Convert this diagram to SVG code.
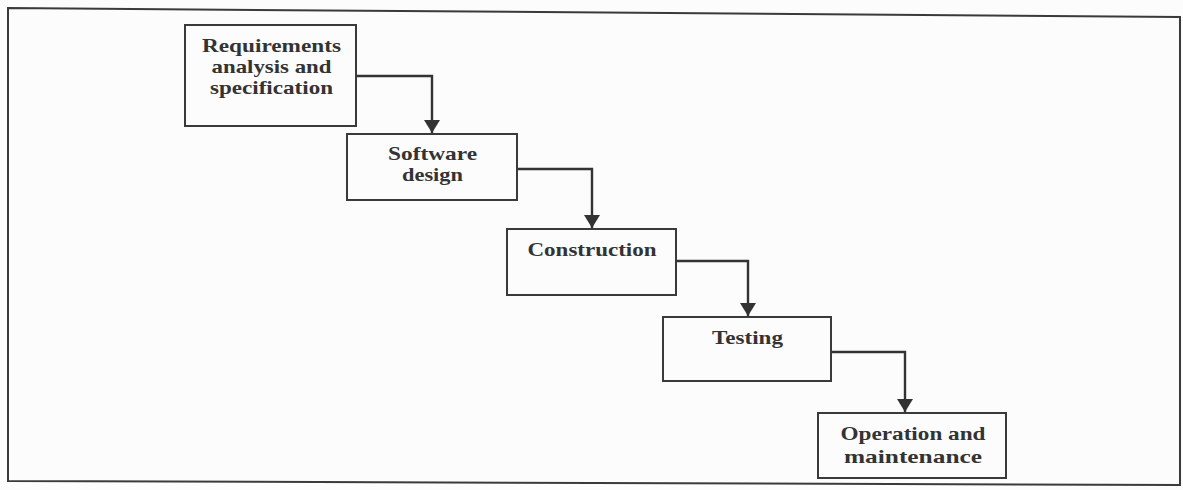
<svg xmlns="http://www.w3.org/2000/svg" width="1183" height="490" viewBox="0 0 1183 490">
  <style>
    .box { fill: none; stroke: #3a3a3a; stroke-width: 2; }
    .lbl { font-family: "Liberation Serif", "Times New Roman", serif; font-weight: bold; font-size: 19px; fill: #333; text-anchor: middle; }
    .conn { fill: none; stroke: #333; stroke-width: 2.4; }
  </style>
  <defs>
    <marker id="arrow" viewBox="0 0 13 16" refX="13" refY="8" markerWidth="13" markerHeight="16" markerUnits="userSpaceOnUse" orient="auto">
      <path d="M0,0 L13,8 L0,16 Z" fill="#333"/>
    </marker>
  </defs>
  <rect x="0" y="0" width="1183" height="490" fill="#fcfcfc"/>
  <polygon id="frame" points="8,8 1180,17 1180,485 8,481" fill="none" stroke="#3a3a3a" stroke-width="2"/>

  <g id="connectors">
    <polyline class="conn" points="356,76 432,76 432,133" marker-end="url(#arrow)"/>
    <polyline class="conn" points="517,169 592,169 592,228" marker-end="url(#arrow)"/>
    <polyline class="conn" points="676,261 748,261 748,316" marker-end="url(#arrow)"/>
    <polyline class="conn" points="831,352 905,352 905,412" marker-end="url(#arrow)"/>
  </g>

  <g id="requirements">
    <rect class="box" x="185" y="25" width="171" height="101"/>
    <text class="lbl" x="271.5" y="52" textLength="139" lengthAdjust="spacingAndGlyphs">Requirements</text>
    <text class="lbl" x="271.5" y="73.2" textLength="120" lengthAdjust="spacingAndGlyphs">analysis and</text>
    <text class="lbl" x="271.5" y="94.4" textLength="123" lengthAdjust="spacingAndGlyphs">specification</text>
  </g>
  <g id="software-design">
    <rect class="box" x="347" y="134" width="170" height="66"/>
    <text class="lbl" x="432.5" y="160" textLength="89" lengthAdjust="spacingAndGlyphs">Software</text>
    <text class="lbl" x="432.5" y="181.2" textLength="61" lengthAdjust="spacingAndGlyphs">design</text>
  </g>
  <g id="construction">
    <rect class="box" x="507" y="229" width="169" height="66"/>
    <text class="lbl" x="592" y="256" textLength="129" lengthAdjust="spacingAndGlyphs">Construction</text>
  </g>
  <g id="testing">
    <rect class="box" x="663" y="317" width="168" height="64"/>
    <text class="lbl" x="747.5" y="344" textLength="71" lengthAdjust="spacingAndGlyphs">Testing</text>
  </g>
  <g id="operation">
    <rect class="box" x="818" y="413" width="188" height="65"/>
    <text class="lbl" x="913" y="440" textLength="145" lengthAdjust="spacingAndGlyphs">Operation and</text>
    <text class="lbl" x="913" y="463" textLength="138" lengthAdjust="spacingAndGlyphs">maintenance</text>
  </g>
</svg>
